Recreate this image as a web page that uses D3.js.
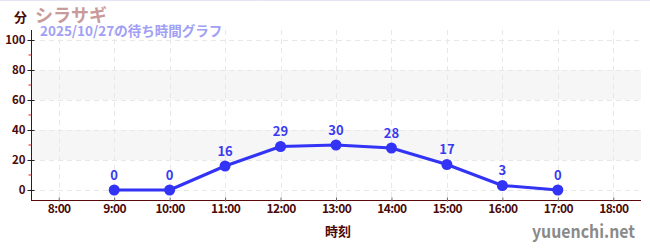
<!DOCTYPE html>
<html>
<head>
<meta charset="utf-8">
<script src="https://cdn.jsdelivr.net/npm/d3@7"></script>
<style>
body { margin: 0; background: #fff; }
text { font-family: "Noto Sans CJK JP", "Noto Sans", sans-serif; }
</style>
</head>
<body>
<script>
// wait times for one day
var hours = [9, 10, 11, 12, 13, 14, 15, 16, 17];
var waits = [0, 0, 16, 29, 30, 28, 17, 3, 0];
var xTicks = [8, 9, 10, 11, 12, 13, 14, 15, 16, 17, 18];
var yTicks = [0, 20, 40, 60, 80, 100];
var yMinor = [10, 30, 50, 70, 90];
var bands = [[20, 40], [60, 80]];

var w = 650, h = 250;
var plotLeft = 31, plotRight = 641, plotTop = 30, plotBottom = 200;

var svg = d3.select("body").append("svg")
    .attr("width", w)
    .attr("height", h);

var x = d3.scaleLinear().domain([7.5, 18.5]).range([plotLeft, plotRight]);
var y = d3.scaleLinear().domain([-6.667, 106.667]).range([plotBottom, plotTop]);

//top border line
svg.append("line")
    .attr("x1", 0).attr("x2", w).attr("y1", 0.5).attr("y2", 0.5)
    .style("stroke", "#e4e4f4");

//gray bands
svg.selectAll(".band").data(bands).enter().append("rect")
    .attr("x", plotLeft)
    .attr("width", plotRight - plotLeft)
    .attr("y", function(d){ return y(d[1]); })
    .attr("height", function(d){ return y(d[0]) - y(d[1]); })
    .style("fill", "#f6f6f6");

//grid
svg.selectAll(".hgrid").data(yTicks).enter().append("line")
    .attr("x1", plotLeft).attr("x2", plotRight)
    .attr("y1", function(d){ return Math.round(y(d)) + 0.5; })
    .attr("y2", function(d){ return Math.round(y(d)) + 0.5; })
    .style("stroke", "#e8e8e8")
    .style("stroke-dasharray", "5,4");
svg.selectAll(".vgrid").data(xTicks).enter().append("line")
    .attr("x1", function(d){ return Math.round(x(d)) + 0.5; })
    .attr("x2", function(d){ return Math.round(x(d)) + 0.5; })
    .attr("y1", plotTop).attr("y2", plotBottom)
    .style("stroke", "#e8e8e8")
    .style("stroke-dasharray", "5,4");

//y axis
var yAxis = svg.append("g")
    .attr("transform", "translate(" + (plotLeft + 0.5) + ",0)")
    .call(d3.axisLeft(y).tickValues(yTicks).tickSize(4).tickSizeOuter(0));
yAxis.select(".domain").style("stroke", "#5a0a0a").attr("d", "M0," + plotTop + "V" + plotBottom);
yAxis.selectAll(".tick line").attr("x1", -4).attr("x2", 3).style("stroke", "#222");
yAxis.selectAll("text")
    .attr("x", -6)
    .style("font-size", "11.5px")
    .style("font-weight", "bold")
    .style("fill", "#4a0a0a");
yAxis.selectAll(".minor").data(yMinor).enter().append("line")
    .attr("x1", -3).attr("x2", 0)
    .attr("y1", function(d){ return y(d); })
    .attr("y2", function(d){ return y(d); })
    .style("stroke", "#e02020");

//x axis
var xAxis = svg.append("g")
    .attr("transform", "translate(0," + (plotBottom + 0.5) + ")")
    .call(d3.axisBottom(x).tickValues(xTicks).tickSize(0).tickSizeOuter(0)
        .tickFormat(function(d){ return d + ":00"; }));
xAxis.select(".domain").style("stroke", "#5a0a0a").attr("d", "M" + plotLeft + ",0H" + plotRight);
xAxis.selectAll(".tick line").attr("y1", -3).attr("y2", 1).style("stroke", "#666");
xAxis.selectAll("text")
    .attr("y", 4)
    .style("font-size", "12px")
    .style("font-weight", "bold")
    .style("letter-spacing", "-0.6px")
    .style("fill", "#4a0a0a");

//line
var line = d3.line()
    .x(function(d, i){ return x(hours[i]); })
    .y(function(d){ return y(d); });
svg.append("path")
    .datum(waits)
    .attr("d", line)
    .style("fill", "none")
    .style("stroke", "#3333f5")
    .style("stroke-width", 3)
    .style("stroke-linejoin", "round");

svg.selectAll(".pt").data(waits).enter().append("circle")
    .attr("cx", function(d, i){ return x(hours[i]); })
    .attr("cy", function(d){ return y(d); })
    .attr("r", 5.5)
    .style("fill", "#3333f5");

svg.selectAll(".lbl").data(waits).enter().append("text")
    .attr("x", function(d, i){ return x(hours[i]); })
    .attr("y", function(d){ return y(d) - 10; })
    .attr("text-anchor", "middle")
    .style("font-size", "13px")
    .style("font-weight", "bold")
    .style("fill", "#3a3af0")
    .text(function(d){ return d; });

//titles
svg.append("text").attr("x", 14).attr("y", 22)
    .style("font-size", "13px").style("font-weight", "bold").style("fill", "#4a0a0a")
    .text("分");
svg.append("text").attr("x", 35).attr("y", 22)
    .style("font-size", "18px").style("font-weight", "bold").style("fill", "#c99a9a")
    .text("シラサギ");
svg.append("text").attr("x", 40).attr("y", 36)
    .style("font-size", "13.5px").style("font-weight", "bold").style("fill", "#a0a0f4")
    .text("2025/10/27の待ち時間グラフ");
svg.append("text").attr("x", 338).attr("y", 236)
    .attr("text-anchor", "middle")
    .style("font-size", "13px").style("font-weight", "bold").style("fill", "#4a0a0a")
    .text("時刻");
svg.append("text").attr("x", 635).attr("y", 238)
    .attr("text-anchor", "end")
    .attr("textLength", 103)
    .attr("lengthAdjust", "spacingAndGlyphs")
    .style("font-size", "18px").style("font-weight", "bold").style("fill", "#8a8a8a")
    .text("yuuenchi.net");
</script>
</body>
</html>
